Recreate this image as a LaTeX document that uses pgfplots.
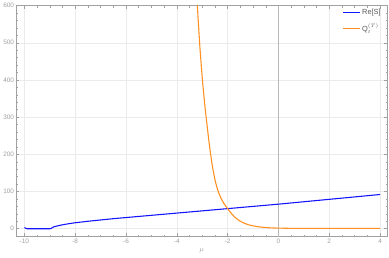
\documentclass[border=0pt]{standalone}
\usepackage{fontspec}
\setmainfont{Liberation Sans}
\usepackage{pgfplots}
\pgfplotsset{compat=1.18}
\definecolor{fr}{HTML}{A0A0A0}
\definecolor{gr}{HTML}{EBEBEB}
\definecolor{bl}{HTML}{1414FF}
\definecolor{orr}{HTML}{FF8F1F}
\begin{document}
\begin{tikzpicture}
\begin{axis}[
  at={(0,0)}, anchor=south west,
  scale only axis, width=375bp, height=233bp,
  xmin=-10.33, xmax=4.3, ymin=-21, ymax=600,
  xtick={-10,-8,...,4}, ytick={0,100,...,600},
  minor x tick num=3, minor y tick num=4,
  tick align=inside,
  major tick length=3.5bp, minor tick length=2bp,
  axis line style={fr, line width=0.6pt},
  every tick/.style={fr, line width=0.5pt},
  grid=major, major grid style={gr, line width=0.5pt},
  ticklabel style={text=fr, font=\fontsize{6.5}{7}\selectfont},
  /pgf/number format/assume math mode=true,
  xticklabel style={yshift=1bp},
  yticklabel style={xshift=1.5bp},
  xlabel={$\mu$}, xlabel style={text=fr, font=\fontsize{7}{8}\selectfont, yshift=2bp},
  legend style={draw=none, fill=none, at={(0.995,0.998)}, anchor=north east,
    font=\fontsize{7.5}{8}\selectfont, text=black!65, row sep=6pt,
    nodes={inner ysep=1pt}},
  legend cell align=left,
  clip=true,
]
\draw[fr!75, line width=0.5pt] (axis cs:0,-21) -- (axis cs:0,600);
\addplot[bl, line width=1.1pt] coordinates {
(-10,3) (-9.95,1.5) (-9.9,0) (-9.5,0) (-9.0,0) (-8.95,0.5) (-8.9,3) (-8.85,5)
(-8.7,7.5) (-8.5,10.5) (-8.25,13.5) (-8,16) (-7.5,20) (-7,23.5) (-6.5,27) (-6,30)
(-5,36) (-4,42) (-3,48) (-2,54) (-1,60) (0,66) (1,72.5) (2,79) (3,85.5) (4,92)
};
\addlegendentry{Re[S]}
\addplot[orr, line width=1.1pt, smooth, tension=0.4] coordinates {
(-3.3,690) (-3.2,606) (-3.1,496) (-3.0,406) (-2.9,333) (-2.8,272) (-2.7,215)
(-2.6,168) (-2.5,132) (-2.4,106) (-2.3,88) (-2.2,74) (-2.1,63) (-2.0,54)
(-1.9,45) (-1.8,37) (-1.7,30) (-1.6,24.5) (-1.5,20) (-1.4,16.5) (-1.3,13.5)
(-1.2,11) (-1.0,7.7) (-0.8,5.3) (-0.6,3.8) (-0.4,2.7) (-0.2,2.0) (0,1.6)
(0.5,1.0) (1,0.8) (2,0.7) (3,0.7) (4,0.7)
};
\addlegendentry{$\mathrm{Q}_t^{(T)}$}
\end{axis}
\path[use as bounding box] (-12.7bp,-21bp) rectangle (376.3bp,236bp);
\end{tikzpicture}
\end{document}
